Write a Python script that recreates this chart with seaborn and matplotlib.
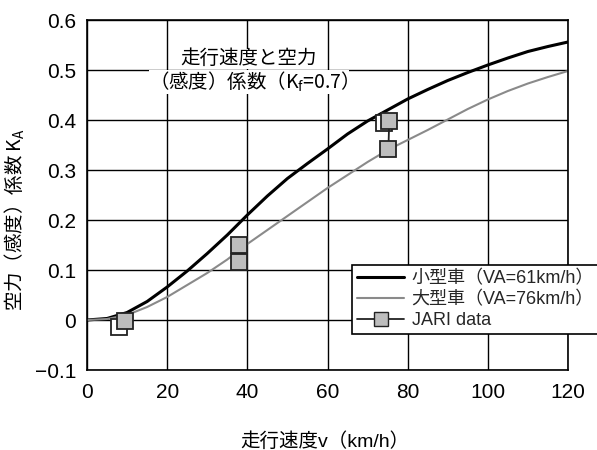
import matplotlib
matplotlib.use("Agg")
import matplotlib.pyplot as plt
import seaborn as sns
import pandas as pd
import numpy as np
from matplotlib.lines import Line2D

# ---- data ----
speed = [0, 5, 10, 15, 20, 25, 30, 35, 40, 45, 50, 55, 60, 65, 70, 75,
         80, 85, 90, 95, 100, 105, 110, 115, 120]
ka_small = [0.0, 0.003, 0.015, 0.037, 0.066, 0.098, 0.133, 0.170, 0.210,
            0.248, 0.283, 0.313, 0.342, 0.372, 0.398, 0.420, 0.442, 0.461,
            0.479, 0.495, 0.510, 0.524, 0.537, 0.547, 0.556]
ka_large = [0.0, 0.002, 0.010, 0.026, 0.046, 0.070, 0.094, 0.121, 0.152,
            0.180, 0.208, 0.236, 0.264, 0.290, 0.316, 0.340, 0.360, 0.380,
            0.401, 0.422, 0.441, 0.458, 0.473, 0.486, 0.498]

# JARI data (front squares, grouped; each group joined by a line)
jari_group = [1, 2, 2, 3, 3]
jari_v = [9.5, 38.0, 38.0, 75.4, 75.2]
jari_k = [-0.002, 0.151, 0.116, 0.399, 0.343]
# JARI data (back, white squares)
jari_back_v = [8.1, 74.1]
jari_back_k = [-0.014, 0.394]

label_small = "小型車（VA=61km/h）"
label_large = "大型車（VA=76km/h）"
label_jari = "JARI data"
title_lines = ["走行速度と空力", "（感度）係数（K$_\\mathrm{f}$=0.7）"]
xlabel = "走行速度v（km/h）"
ylabel = "空力（感度）係数 K$_\\mathrm{A}$"
xticks = [0, 20, 40, 60, 80, 100, 120]
yticks = [-0.1, 0, 0.1, 0.2, 0.3, 0.4, 0.5, 0.6]
yticklabels = ["−0.1", "0", "0.1", "0.2", "0.3", "0.4", "0.5", "0.6"]

sns.set_theme(style="whitegrid")
plt.rcParams['font.family'] = ['Liberation Sans', 'Noto Sans CJK JP', 'DejaVu Sans']
plt.rcParams['mathtext.fontset'] = 'custom'
plt.rcParams['mathtext.rm'] = 'Noto Sans CJK JP'
plt.rcParams['mathtext.it'] = 'Noto Sans CJK JP'
plt.rcParams['mathtext.default'] = 'rm'
CJK = ['Noto Sans CJK JP']

fig = plt.figure(figsize=(5.97, 4.5), dpi=100)
ax = fig.add_axes([87/597, 80/450, 481/597, 350/450])

df = pd.DataFrame({"v": speed, "small": ka_small, "large": ka_large})
sns.lineplot(data=df, x="v", y="small", color="black", linewidth=2.2, ax=ax)
sns.lineplot(data=df, x="v", y="large", color="#8a8a8a", linewidth=1.5, ax=ax)

# back (white) squares
ax.plot(jari_back_v, jari_back_k, linestyle="none", marker="s", markersize=12,
        markerfacecolor="white", markeredgecolor="#222222", markeredgewidth=1.3, zorder=4)
# front gray squares grouped
for g in sorted(set(jari_group)):
    xs = [v for v, gg in zip(jari_v, jari_group) if gg == g]
    ys = [k for k, gg in zip(jari_k, jari_group) if gg == g]
    ax.plot(xs, ys, color="#222222", linewidth=1.3, marker="s", markersize=12,
            markerfacecolor="#bdbdbd", markeredgecolor="#222222", markeredgewidth=1.3, zorder=5)

ax.set_xlim(0, 120)
ax.set_ylim(-0.1, 0.6)
ax.set_xticks(xticks)
ax.set_yticks(yticks)
ax.set_yticklabels(yticklabels)
ax.grid(True, color="black", linewidth=1.0)
for s in ax.spines.values():
    s.set_color("black")
    s.set_linewidth(1.2)
ax.tick_params(axis="both", length=0, labelsize=15, colors="black")
ax.tick_params(axis="x", pad=9)
ax.tick_params(axis="y", pad=8)

ax.set_xlabel(xlabel, fontsize=14, color="black")
ax.set_ylabel(ylabel, fontsize=14, color="black", family=CJK)
ax.xaxis.set_label_coords(0.495, -0.178)
ax.yaxis.set_label_coords(-0.125, 0.43)

ax.text(40.3, 0.522, title_lines[0], ha="center", va="center", fontsize=14,
        color="black", bbox=dict(facecolor="white", edgecolor="none", pad=0.2), zorder=6)
ax.text(40.3, 0.476, title_lines[1], ha="center", va="center", fontsize=14,
        color="black", family=CJK,
        bbox=dict(facecolor="white", edgecolor="none", pad=0.2), zorder=6)

handles = [
    Line2D([], [], color="black", linewidth=2.2),
    Line2D([], [], color="#8a8a8a", linewidth=1.5),
    Line2D([], [], color="#222222", linewidth=1.3, marker="s", markersize=10,
           markerfacecolor="#bdbdbd", markeredgecolor="#222222"),
]
leg = fig.legend(handles, [label_small, label_large, label_jari],
                 loc="upper left", bbox_to_anchor=(352/597, 1 - 265/450),
                 frameon=True, fancybox=False, framealpha=1, edgecolor="black",
                 fontsize=13, handlelength=2.6, borderpad=0.3, labelspacing=0.2,
                 handletextpad=0.4, borderaxespad=0)
leg.get_frame().set_linewidth(1.2)
leg.set_zorder(10)

fig.savefig("out.png", dpi=100)
